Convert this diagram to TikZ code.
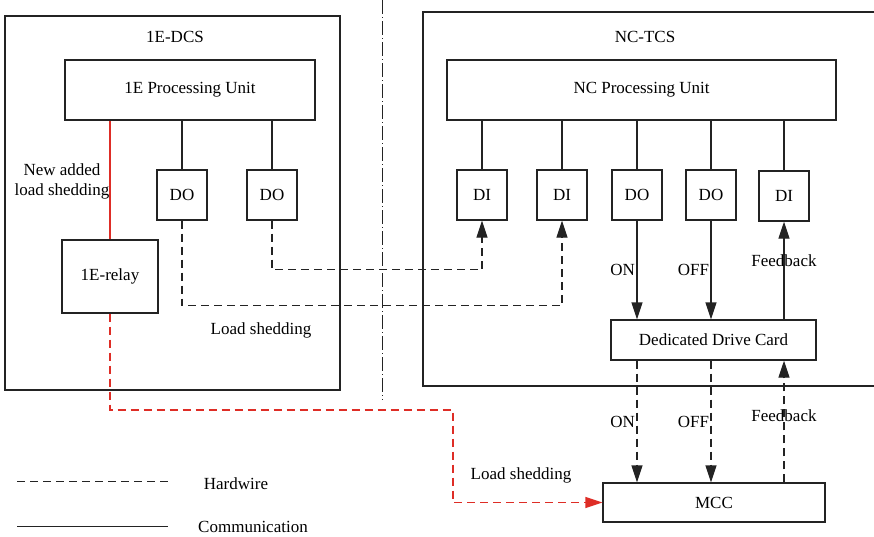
\documentclass[tikz,border=0pt]{standalone}
\usepackage{fontspec}
\setmainfont{Liberation Serif}
\usetikzlibrary{arrows.meta}
\definecolor{shedred}{RGB}{222,45,38}
\definecolor{linegray}{RGB}{35,35,35}
\tikzset{
  unit/.style={draw=linegray, line width=1.3pt, inner sep=0pt},
  iobox/.style={unit, minimum width=50pt, minimum height=50pt},
  hw/.style={dash pattern=on 8pt off 5pt},
  sigarrow/.style={-{Triangle[length=17pt,width=11pt]}},
}
\begin{document}
\begin{tikzpicture}[x=1pt, y=-1pt, line width=1.3pt, draw=linegray,
  font=\fontsize{17}{20}\selectfont]
  \useasboundingbox (0,0) rectangle (874,536);
  % 1E-DCS cabinet
  \draw (5,16) rectangle (340,390);
  \node (dcs) at (175,37) {1E-DCS};
  \node[unit, minimum width=250pt, minimum height=60pt] (pu1) at (190,90) {1E Processing Unit};
  \node[iobox] (do1) at (182,195) {DO};
  \node[iobox] (do2) at (272,195) {DO};
  \node[unit, minimum width=96pt, minimum height=73pt] (relay) at (110,276.5) {1E-relay};
  \node[align=center] (newls) at (62,181) {New added\\load shedding};
  \node (lsleft) at (261,330) {Load shedding};
  % separation line
  \coordinate (septop) at (382,0);
  \coordinate (sepbot) at (382,400);
  \draw[dash pattern=on 14pt off 3pt on 1pt off 3pt, line width=1pt] (septop) -- (sepbot);
  % NC-TCS cabinet (right edge runs off the page)
  \draw (423,12) rectangle (878,386);
  \node (tcs) at (645,37) {NC-TCS};
  \node[unit, minimum width=389pt, minimum height=60pt] (pu2) at (641.5,90) {NC Processing Unit};
  \node[iobox] (di1) at (482,195) {DI};
  \node[iobox] (di2) at (562,195) {DI};
  \node[iobox] (do3) at (637,195) {DO};
  \node[iobox] (do4) at (711,195) {DO};
  \node[iobox] (di3) at (784,196) {DI};
  \node[unit, minimum width=205pt, minimum height=40pt] (ddc) at (713.5,340) {Dedicated Drive Card};
  % MCC
  \node[unit, minimum width=222pt, minimum height=39pt] (mcc) at (714,502.5) {MCC};
  % communication links
  \foreach \b in {do1,do2} \draw (\b.north) -- (\b.north |- pu1.south);
  \foreach \b in {di1,di2,do3,do4,di3} \draw (\b.north) -- (\b.north |- pu2.south);
  \draw[shedred] (relay.north) -- (relay.north |- pu1.south);
  % hardwired load shedding DO -> DI
  \draw[hw, sigarrow] (do1.south) -- ++(0,85) -| (di2.south);
  \draw[hw, sigarrow] (do2.south) -- ++(0,49) -| (di1.south);
  % drive card signals
  \draw[sigarrow] (do3.south) -- (do3.south |- ddc.north) node[midway, left, xshift=2pt] {ON};
  \draw[sigarrow] (do4.south) -- (do4.south |- ddc.north) node[midway, left, xshift=2pt] {OFF};
  \draw[sigarrow] (di3.south |- ddc.north) -- (di3.south) node[pos=0.6] {Feedback};
  \draw[hw, sigarrow] (do3.south |- ddc.south) -- (do3.south |- mcc.north) node[midway, left, xshift=2pt] {ON};
  \draw[hw, sigarrow] (do4.south |- ddc.south) -- (do4.south |- mcc.north) node[midway, left, xshift=2pt] {OFF};
  \draw[hw, sigarrow] (di3.south |- mcc.north) -- (di3.south |- ddc.south) node[pos=0.55] {Feedback};
  % new added load shedding (red)
  \coordinate (bend) at (453,410);
  \draw[shedred, hw, sigarrow] (relay.south) |- (bend) |- (mcc.west);
  \node (lsred) at (521,475) {Load shedding};
  % legend
  \coordinate (hwa) at (17,481);
  \coordinate (hwb) at (168,481);
  \coordinate (cma) at (17,526);
  \coordinate (cmb) at (168,526);
  \draw[hw, line width=1pt] (hwa) -- (hwb);
  \node (hwtxt) at (236,484) {Hardwire};
  \draw[line width=1pt] (cma) -- (cmb);
  \node (cmtxt) at (253,527) {Communication};
\end{tikzpicture}
\end{document}
